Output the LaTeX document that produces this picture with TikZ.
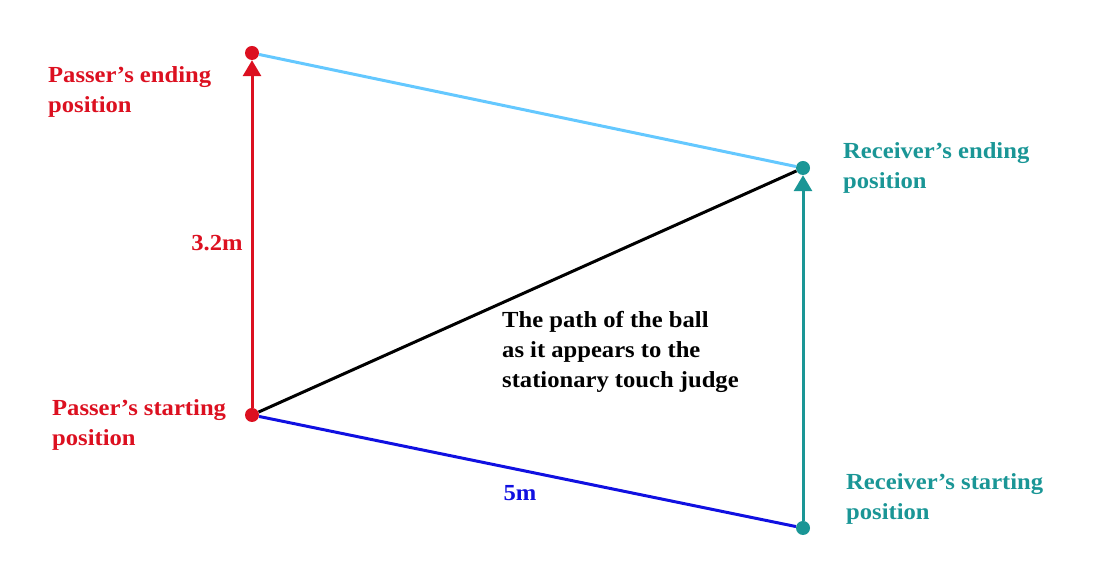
\documentclass[tikz,border=0pt]{standalone}
\usepackage{fontspec}
\setmainfont[FakeStretch=1.07]{Liberation Serif}
\usetikzlibrary{arrows.meta}
\definecolor{cred}{RGB}{220,16,32}
\definecolor{cteal}{RGB}{26,150,150}
\definecolor{clight}{RGB}{100,200,255}
\definecolor{cblue}{RGB}{16,16,225}
\begin{document}
\begin{tikzpicture}[x=1pt,y=1pt,
  dot/.style={circle,fill=#1,draw=none,inner sep=0pt,minimum size=14pt},
  lbl/.style={inner sep=0pt,align=left,anchor=west,text=#1,font=\fontsize{23}{30}\selectfont\bfseries},
  seg/.style={line width=3pt,draw=#1},
  arr/.style={line width=3pt,draw=#1,-{Triangle[length=16pt,width=18pt]}}]
\useasboundingbox (0,0) rectangle (1104,580);
\node[dot=cred] (p0) at (252,165) {};
\node[dot=cred] (p1) at (252,527) {};
\node[dot=cteal] (r1) at (803,412) {};
\node[dot=cteal] (r0) at (803,52) {};
\draw[seg=clight] (p1) -- (r1);
\draw[seg=black] (p0) -- (r1);
\draw[seg=cblue] (p0) -- (r0);
\draw[arr=cred] (p0) -- (p1);
\draw[arr=cteal] (r0) -- (r1);
\node[lbl=cred] (pe) at (48,488) {Passer’s ending\\position};
\node[lbl=cred] (ps) at (52,155) {Passer’s starting\\position};
\node[lbl=cteal] (re) at (843,412) {Receiver’s ending\\position};
\node[lbl=cteal] (rs) at (846,81) {Receiver’s starting\\position};
\node[lbl=black] (bp) at (502,228) {The path of the ball\\as it appears to the\\stationary touch judge};
\node[lbl=cred,anchor=center] (d1) at (217,337) {3.2m};
\node[lbl=cblue,anchor=center] (d2) at (520,87) {5m};
\end{tikzpicture}
\end{document}
